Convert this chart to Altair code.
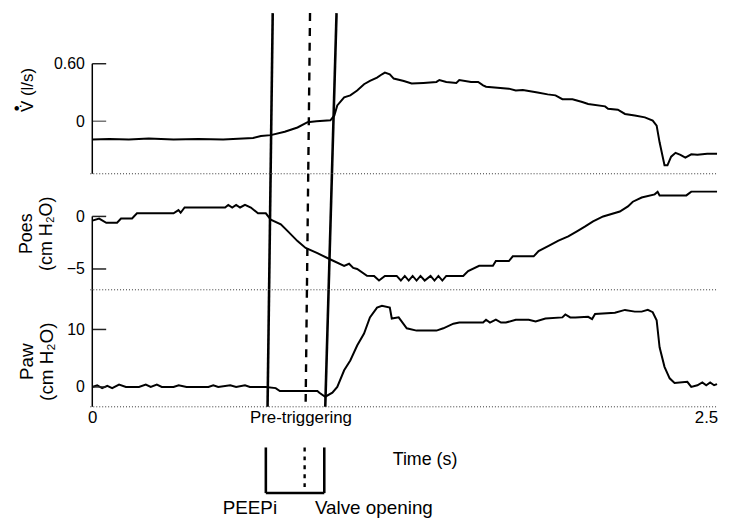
import altair as alt
import pandas as pd

# ---------------- data ----------------
v_t = [0.000, 0.069, 0.149, 0.230, 0.331, 0.432, 0.533, 0.614, 0.655, 0.687, 0.727, 0.784,
       0.836, 0.877, 0.913, 0.970, 0.986, 0.998, 1.026, 1.051, 1.079, 1.107, 1.131, 1.160,
       1.180, 1.192, 1.212, 1.228, 1.269, 1.301, 1.349, 1.402, 1.414, 1.442, 1.483, 1.495,
       1.543, 1.572, 1.592, 1.604, 1.697, 1.725, 1.754, 1.814, 1.855, 1.887, 1.915, 1.956,
       1.996, 2.020, 2.089, 2.101, 2.141, 2.170, 2.210, 2.251, 2.283, 2.299, 2.311, 2.331,
       2.343, 2.358, 2.376, 2.396, 2.416, 2.440, 2.465, 2.505, 2.545]
v_val = [-0.19, -0.185, -0.19, -0.18, -0.19, -0.185, -0.19, -0.18, -0.175, -0.155, -0.145, -0.11,
         -0.065, -0.01, 0.0, 0.01, 0.06, 0.165, 0.25, 0.27, 0.32, 0.386, 0.42, 0.455,
         0.49, 0.507, 0.49, 0.445, 0.42, 0.393, 0.40, 0.41, 0.43, 0.41, 0.40, 0.43,
         0.41, 0.41, 0.375, 0.36, 0.34, 0.32, 0.325, 0.30, 0.28, 0.27, 0.23, 0.23,
         0.20, 0.18, 0.155, 0.13, 0.12, 0.076, 0.06, 0.04, 0.007, -0.045, -0.22, -0.46,
         -0.46, -0.37, -0.33, -0.35, -0.38, -0.345, -0.35, -0.34, -0.34]

poes_t = [0.000, 0.028, 0.057, 0.101, 0.117, 0.162, 0.182, 0.331, 0.351, 0.360, 0.376, 0.541,
          0.554, 0.570, 0.586, 0.602, 0.622, 0.646, 0.675, 0.707, 0.727, 0.768, 0.796, 0.836,
          0.869, 0.917, 0.966, 1.026, 1.046, 1.063, 1.079, 1.119, 1.148, 1.168, 1.192, 1.240,
          1.257, 1.273, 1.289, 1.305, 1.321, 1.337, 1.354, 1.378, 1.394, 1.410, 1.426, 1.442,
          1.511, 1.531, 1.576, 1.632, 1.644, 1.697, 1.713, 1.798, 1.818, 1.859, 1.899, 1.939,
          1.976, 2.008, 2.040, 2.081, 2.149, 2.182, 2.202, 2.238, 2.291, 2.303, 2.311, 2.420,
          2.440, 2.545]
poes_val = [-0.4, -0.2, -0.6, -0.6, -0.2, -0.2, 0.3, 0.3, 0.6, 0.35, 0.85, 0.85,
            1.1, 0.85, 1.1, 0.85, 1.1, 0.85, 0.3, 0.3, -0.3, -0.75, -1.4, -2.35,
            -3.0, -3.5, -4.05, -4.7, -4.5, -4.9, -5.0, -5.65, -5.66, -6.1, -5.66, -5.66,
            -6.1, -5.66, -6.1, -5.66, -6.1, -5.66, -6.1, -5.66, -6.1, -5.66, -6.1, -5.66,
            -5.66, -5.2, -4.7, -4.7, -4.25, -4.25, -3.8, -3.8, -3.3, -2.8, -2.3, -1.9,
            -1.4, -0.95, -0.47, 0.0, 0.47, 0.95, 1.4, 1.8, 2.1, 2.35, 2.0, 2.0,
            2.36, 2.36]

paw_t = [0.000, 0.020, 0.040, 0.061, 0.081, 0.109, 0.137, 0.190, 0.218, 0.238, 0.263, 0.283,
         0.331, 0.352, 0.384, 0.473, 0.493, 0.513, 0.562, 0.586, 0.622, 0.642, 0.707, 0.747,
         0.764, 0.917, 0.925, 0.949, 0.978, 0.998, 1.026, 1.051, 1.079, 1.107, 1.131, 1.160,
         1.180, 1.212, 1.220, 1.248, 1.281, 1.321, 1.402, 1.430, 1.471, 1.495, 1.592, 1.604,
         1.620, 1.644, 1.665, 1.685, 1.725, 1.778, 1.806, 1.846, 1.915, 1.927, 1.947, 1.968,
         2.020, 2.036, 2.048, 2.129, 2.170, 2.210, 2.238, 2.263, 2.283, 2.299, 2.311, 2.331,
         2.352, 2.372, 2.424, 2.440, 2.465, 2.485, 2.501, 2.517, 2.533, 2.545]
paw_val = [0.0, 0.3, -0.2, 0.2, -0.2, 0.4, 0.0, 0.0, 0.4, 0.0, 0.4, 0.0,
           0.0, 0.3, 0.0, 0.0, 0.3, 0.0, 0.3, 0.0, 0.3, 0.0, 0.0, -0.2,
           -0.7, -0.7, -1.0, -1.7, -1.0, 0.0, 2.9, 4.6, 7.2, 9.3, 12.1, 13.8,
           14.1, 13.8, 11.9, 12.1, 10.2, 9.8, 9.8, 10.2, 11.0, 11.2, 11.2, 11.7,
           11.2, 11.7, 11.2, 11.2, 11.7, 11.7, 11.4, 11.9, 12.1, 12.6, 12.1, 12.1,
           12.2, 11.8, 12.7, 12.9, 13.4, 13.1, 13.1, 13.4, 13.0, 11.6, 6.9, 3.5,
           1.5, 0.7, 0.9, 0.0, 0.3, 0.8, 0.3, 0.8, 0.3, 0.5]

v_ticks = [0, 0.6]
v_tick_labels = ["0", "0.60"]
poes_ticks = [0, -5]
paw_ticks = [0, 10]
x_ticks = [0, 0.848, 2.5]
x_tick_labels = ["0", "Pre-triggering", "2.5"]

# event lines: time where each crosses the top / bottom of the traces
line_names = ["pre", "peepi", "valve"]
line_t_top = [0.735, 0.887, 0.995]
line_t_bottom = [0.714, 0.869, 0.949]
bracket_t = [0.707, 0.865, 0.945]
bracket_labels = ["PEEPi", "Valve opening"]
bracket_label_t = [0.642, 1.147]

# ---------------- layout / style ----------------
FONT = "Liberation Sans"
W = 630
XMAX = 2.545
H = [162, 117, 118]
H4 = 107
TOPS = [0, H[0], H[0] + H[1]]
TOTAL = sum(H)

xs = alt.Scale(domain=[0, XMAX], nice=False, zero=False)


def seg_df(i):
    a = TOPS[i] / TOTAL
    b = (TOPS[i] + H[i]) / TOTAL
    rows = []
    for n, tt, tb in zip(line_names, line_t_top, line_t_bottom):
        rows.append(dict(name=n, t1=tt + (tb - tt) * a, t2=tt + (tb - tt) * b))
    return pd.DataFrame(rows)


def panel(i, t, vals, dom, ticks, axis_top, title, title_x, title_y, title_size,
          label_expr=None, xaxis=None, tick_colors=None, extra=None):
    h = H[i]
    ys = alt.Scale(domain=dom, nice=False, zero=False)
    yaxis_kw = dict(values=ticks, title=title, ticks=False, domain=False, grid=False,
                    labelPadding=8, labelFontSize=16, titleX=title_x, titleY=title_y,
                    titleAngle=270, titleAlign="center", titleBaseline="middle",
                    titleFontSize=title_size, titleLineHeight=20, labelOverlap=False)
    if label_expr:
        yaxis_kw["labelExpr"] = label_expr
    yaxis = alt.Axis(**yaxis_kw)
    df = pd.DataFrame({"t": t, "val": vals})
    line = alt.Chart(df).mark_line(color="black", strokeWidth=2).encode(
        x=alt.X("t:Q", scale=xs, axis=xaxis),
        y=alt.Y("val:Q", scale=ys, axis=yaxis),
    )
    tk = alt.Chart(pd.DataFrame({"val": ticks, "c": tick_colors or ["#222"] * len(ticks)})).mark_rule(
        strokeWidth=1.5).encode(
        y=alt.Y("val:Q", scale=ys, axis=yaxis),
        x=alt.value(0), x2=alt.value(14),
        color=alt.Color("c:N", scale=None),
    )
    spine = alt.Chart(pd.DataFrame({"val": [axis_top], "lo": [dom[0]]})).mark_rule(
        color="black", strokeWidth=1.5).encode(
        y=alt.Y("val:Q", scale=ys, axis=yaxis),
        y2="lo:Q",
        x=alt.value(0),
    )
    base = alt.Chart(pd.DataFrame({"k": [0]})).mark_rule(
        color="#333", strokeWidth=1, strokeDash=[1, 2]).encode(
        x=alt.value(-2), x2=alt.value(W), y=alt.value(h),
    )
    segs = seg_df(i).rename(columns={"t1": "t"})
    solid = alt.Chart(segs[segs.name != "peepi"]).mark_rule(
        color="black", strokeWidth=2.6).encode(
        x=alt.X("t:Q", scale=xs, axis=xaxis), x2="t2:Q",
        y=alt.value(0), y2=alt.value(h),
    )
    dashed = alt.Chart(segs[segs.name == "peepi"]).mark_rule(
        color="black", strokeWidth=2.4, strokeDash=[8, 7]).encode(
        x=alt.X("t:Q", scale=xs, axis=xaxis), x2="t2:Q",
        y=alt.value(0), y2=alt.value(h),
    )
    layers = [line, tk, spine, base, solid, dashed] + (extra or [])
    return alt.layer(*layers).properties(width=W, height=h)


v_expr = " : ".join(f"datum.value == {v} ? '{l}'" for v, l in zip(v_ticks, v_tick_labels)) + " : ''"
x_expr = " : ".join(f"datum.value == {v} ? '{l}'" for v, l in zip(x_ticks, x_tick_labels)) + " : ''"

# the heavy "dot" of V-dot (flow) drawn over the title
vdot = alt.Chart(pd.DataFrame({"s": ["\u2022"]})).mark_text(
    font=FONT, fontSize=17, color="black", angle=270, baseline="middle", align="center").encode(
    text="s:N", x=alt.value(-76), y=alt.value(96))

p1 = panel(0, v_t, v_val, [-0.548, 1.128], v_ticks, 0.6, "V\u0307  (l/s)", -65, 77, 17,
           label_expr=v_expr, tick_colors=["#777", "#222"], extra=[vdot])
p2 = panel(1, poes_t, poes_val, [-6.98, 4.06], poes_ticks, 0, ["Poes", "(cm H\u2082O)"], -66, 60, 18)
xaxis3 = alt.Axis(values=x_ticks, labelExpr=x_expr, ticks=False, domain=False, grid=False,
                  labelPadding=3, labelFontSize=17, labelFlush=False, labelOverlap=False,
                  title="Time (s)", titleX=335, titleY=53, titleAlign="center",
                  titleBaseline="middle", titleFontSize=18)
p3 = panel(2, paw_t, paw_val, [-3.45, 16.9], paw_ticks, 16.9, ["Paw", "(cm H\u2082O)"], -66, 72, 19,
           xaxis=xaxis3)

# bracket under the time axis
bt = pd.DataFrame({"t": bracket_t, "kind": ["solid", "dash", "solid"]})
b_solid = alt.Chart(bt[bt.kind == "solid"]).mark_rule(color="black", strokeWidth=2.6).encode(
    x=alt.X("t:Q", scale=xs, axis=None), y=alt.value(41), y2=alt.value(87))
b_dash = alt.Chart(bt[bt.kind == "dash"]).mark_rule(color="black", strokeWidth=2.4,
                                                     strokeDash=[4, 5]).encode(
    x=alt.X("t:Q", scale=xs, axis=None), y=alt.value(41), y2=alt.value(87))
b_floor = alt.Chart(pd.DataFrame({"t": [bracket_t[0]], "b": [bracket_t[-1]]})).mark_rule(
    color="black", strokeWidth=2.6).encode(
    x=alt.X("t:Q", scale=xs, axis=None), x2="b:Q", y=alt.value(87))
b_text = alt.Chart(pd.DataFrame({"t": bracket_label_t, "label": bracket_labels})).mark_text(
    font=FONT, fontSize=19, color="black", baseline="middle").encode(
    x=alt.X("t:Q", scale=xs, axis=None), y=alt.value(102), text="label:N")
p4 = alt.layer(b_solid, b_dash, b_floor, b_text).properties(width=W, height=H4)

chart = alt.vconcat(p1, p2, p3, p4, spacing=0, bounds="flush").resolve_scale(
    x="independent", y="independent"
).properties(
    padding={"left": 0, "top": 1, "right": 0, "bottom": 0}
).configure_view(stroke=None).configure_axis(
    labelFont=FONT, titleFont=FONT, labelColor="black", titleColor="black",
    titleFontWeight="normal"
)

chart.save("out.html", embed_options={"renderer": "svg", "actions": False})
